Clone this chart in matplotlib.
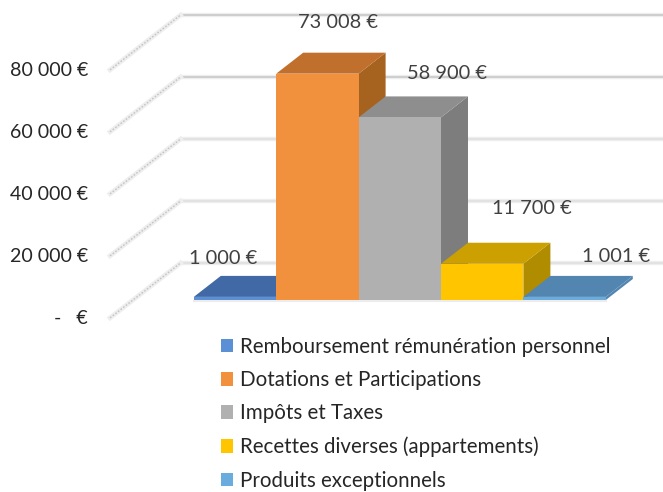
import matplotlib
matplotlib.use("Agg")
import matplotlib.pyplot as plt
from matplotlib.patches import Polygon, Patch

categories = ["Remboursement rémunération personnel", "Dotations et Participations",
              "Impôts et Taxes", "Recettes diverses (appartements)", "Produits exceptionnels"]
values = [1000, 73008, 58900, 11700, 1001]
value_labels = ["1 000 €", "73 008 €", "58 900 €", "11 700 €", "1 001 €"]
ticks = [0, 20000, 40000, 60000, 80000]
tick_labels = ["-   €", "20 000 €", "40 000 €", "60 000 €", "80 000 €"]

front_colors = ["#5B8FD6", "#F2913D", "#B0B0B0", "#FFC600", "#6AACDE"]
top_colors = ["#4169A5", "#C0702C", "#8E8E8E", "#CBA000", "#5286B1"]
side_colors = ["#4169A5", "#A6621F", "#7D7D7D", "#B08C00", "#5286B1"]
label_offsets = [(-12, 38), (21, 51), (47, 44), (50, 55), (51, 40)]

plt.rcParams['font.family'] = ['Lato', 'DejaVu Sans']

W, H = 663, 492
SLOT = 82.4  # pixels per category
PX_Y = 62 / 20000  # pixels per euro
DX = 27 / SLOT  # depth of one bar
DY = 21 / PX_Y
WALL = 1.76
FRONT = -0.85
LEFT = -1.238

fig = plt.figure(figsize=(W / 100, H / 100), dpi=100)
ax = fig.add_axes([0, 0, 1, 1])
ax.set_xlim(-235 / SLOT, (W - 235) / SLOT)
ax.set_ylim(-(H - 300) / PX_Y, 300 / PX_Y)
ax.axis('off')


def shift(x, v, d):
    return (x + d * DX, v + d * DY)


# gridlines and the hatched side wall
for t in ticks:
    x0, y0 = shift(LEFT, t, FRONT)
    x1, y1 = shift(LEFT, t, WALL)
    grid_col = "#c8c8c8" if t >= 60000 else "#e0e0e0"
    ax.plot([x1, ax.get_xlim()[1]], [y1, y1], color="#eeeeee", lw=3.2, zorder=1, solid_capstyle='butt')
    ax.plot([x1, ax.get_xlim()[1]], [y1, y1], color=grid_col, lw=1.2, zorder=1, solid_capstyle='butt')
    ax.plot([x0, x1], [y0, y1], color="#eeeeee", lw=3.4, zorder=1)
    ax.plot([x0, x1], [y0, y1], color="#c4c4c4", lw=1.0, ls=(0, (1.2, 1.2)), zorder=1)

# white strip under the bars
ax.plot([-0.5, 4.5], [-300, -300], color="#ececec", lw=1.5, zorder=1)

for i, v in enumerate(values):
    z = 2 + i
    ax.bar(i, v, width=1, color=front_colors[i], zorder=z + 0.2, linewidth=0)
    l, r = i - 0.5, i + 0.5
    top = [shift(l, v, 0), shift(r, v, 0), shift(r, v, 1), shift(l, v, 1)]
    side = [shift(r, 0, 0), shift(r, v, 0), shift(r, v, 1), shift(r, 0, 1)]
    ax.add_patch(Polygon(side, closed=True, fc=side_colors[i], ec='none', zorder=z))
    ax.add_patch(Polygon(top, closed=True, fc=top_colors[i], ec='none', zorder=z + 0.1))
    ax.annotate(value_labels[i], (i, v), xytext=label_offsets[i], textcoords='offset pixels',
                ha='center', va='center', fontsize=14.4, color="#404040", zorder=20)

for t, lab in zip(ticks, tick_labels):
    ax.annotate(lab, shift(LEFT, t, FRONT), xytext=(-22, -1), textcoords='offset pixels',
                ha='right', va='center', fontsize=14.1, color="#262626", zorder=20)

handles = [Patch(fc=c, ec='none') for c in front_colors]
ax.legend(handles, categories, loc='upper left', bbox_to_anchor=(214.5 / W, 1 - 330.5 / H),
          bbox_transform=fig.transFigure, frameon=False, fontsize=14.8, labelcolor="#262626",
          handlelength=0.6, handleheight=0.63, handletextpad=0.32, labelspacing=0.65,
          borderpad=0, borderaxespad=0.3)

fig.savefig("out.png", dpi=100)
